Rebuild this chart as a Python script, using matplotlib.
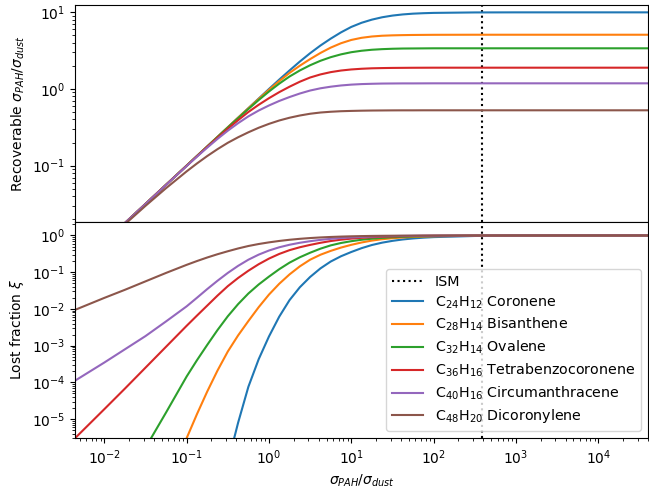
import numpy as np
import matplotlib
matplotlib.use("Agg")
import matplotlib.pyplot as plt

nan = np.nan

# sigma_PAH / sigma_dust grid (log10)
log_sigma = [-2.36, -2.0, -1.75, -1.5, -1.25, -1.0,
             -0.875, -0.75, -0.625, -0.5, -0.375, -0.25, -0.125, 0.0,
             0.125, 0.25, 0.375, 0.5, 0.625, 0.75, 0.875, 1.0,
             1.125, 1.25, 1.375, 1.5, 1.625, 1.75, 1.875, 2.0,
             2.5, 3.0, 3.5, 4.0, 4.61]

sigma_ism = 385.0

labels = [r"C$_{24}$H$_{12}$ Coronene",
          r"C$_{28}$H$_{14}$ Bisanthene",
          r"C$_{32}$H$_{14}$ Ovalene",
          r"C$_{36}$H$_{16}$ Tetrabenzocoronene",
          r"C$_{40}$H$_{16}$ Circumanthracene",
          r"C$_{48}$H$_{20}$ Dicoronylene"]

# recoverable sigma_PAH/sigma_dust (log10)
rec_coronene = [-2.36, -2.0, -1.75, -1.5, -1.25, -1.0,
                -0.875, -0.75, -0.625, -0.5, -0.375, -0.25, -0.125, 0.0,
                0.123, 0.242, 0.358, 0.467, 0.567, 0.657, 0.739, 0.81,
                0.864, 0.905, 0.936, 0.958, 0.973, 0.983, 0.989, 0.993,
                0.999, 1.0, 1.0, 1.0, 1.0]
rec_bisanthene = [-2.36, -2.0, -1.75, -1.5, -1.25, -1.0,
                  -0.875, -0.75, -0.625, -0.5, -0.375, -0.252, -0.13, -0.011,
                  0.103, 0.21, 0.304, 0.39, 0.47, 0.54, 0.597, 0.64,
                  0.668, 0.685, 0.695, 0.70, 0.703, 0.705, 0.706, 0.707,
                  0.708, 0.708, 0.708, 0.708, 0.708]
rec_ovalene = [-2.36, -2.0, -1.75, -1.5, -1.25, -1.0,
               -0.875, -0.751, -0.627, -0.503, -0.381, -0.261, -0.144, -0.033,
               0.07, 0.163, 0.242, 0.31, 0.368, 0.415, 0.452, 0.48,
               0.499, 0.512, 0.52, 0.525, 0.528, 0.529, 0.53, 0.531,
               0.531, 0.531, 0.531, 0.531, 0.531]
rec_tbc = [-2.36, -2.0, -1.75, -1.5, -1.25, -1.002,
           -0.878, -0.755, -0.636, -0.519, -0.407, -0.30, -0.206, -0.12,
           -0.041, 0.03, 0.095, 0.15, 0.19, 0.22, 0.241, 0.255,
           0.264, 0.27, 0.273, 0.275, 0.276, 0.277, 0.2775, 0.278,
           0.278, 0.278, 0.278, 0.278, 0.278]
rec_circum = [-2.36, -2.0, -1.75, -1.501, -1.252, -1.005,
              -0.883, -0.765, -0.651, -0.544, -0.446, -0.357, -0.281, -0.215,
              -0.156, -0.105, -0.059, -0.02, 0.009, 0.03, 0.046, 0.057,
              0.064, 0.068, 0.071, 0.072, 0.073, 0.073, 0.0735, 0.074,
              0.074, 0.074, 0.074, 0.074, 0.074]
rec_dicoronylene = [-2.364, -2.009, -1.765, -1.525, -1.294, -1.075,
                    -0.972, -0.875, -0.785, -0.702, -0.63, -0.565, -0.506, -0.455,
                    -0.411, -0.375, -0.346, -0.323, -0.307, -0.297, -0.29, -0.286,
                    -0.283, -0.281, -0.28, -0.279, -0.2785, -0.2785, -0.278, -0.278,
                    -0.278, -0.278, -0.278, -0.278, -0.278]

# lost fraction xi (log10)
lost_coronene = [nan, nan, nan, nan, nan, nan,
                 nan, nan, nan, -6.2, -5.10, -4.12, -3.37, -2.75,
                 -2.21, -1.76, -1.41, -1.13, -0.897, -0.71, -0.566, -0.45,
                 -0.346, -0.26, -0.196, -0.147, -0.109, -0.081, -0.06, -0.045,
                 -0.014, -0.0044, -0.0014, -0.0004, -0.0001]
lost_bisanthene = [nan, nan, nan, nan, -6.9, -5.52,
                   -4.867, -4.25, -3.678, -3.16, -2.722, -2.33, -1.953, -1.61,
                   -1.315, -1.06, -0.841, -0.66, -0.525, -0.42, -0.33, -0.255,
                   -0.191, -0.14, -0.102, -0.075, -0.055, -0.041, -0.0305, -0.023,
                   -0.007, -0.0022, -0.0007, -0.0002, 0.0]
lost_ovalene = [nan, nan, nan, -5.78, -4.82, -3.84,
                -3.398, -2.98, -2.575, -2.20, -1.87, -1.58, -1.335, -1.12,
                -0.918, -0.74, -0.594, -0.47, -0.36, -0.27, -0.205, -0.156,
                -0.117, -0.088, -0.066, -0.049, -0.036, -0.027, -0.02, -0.015,
                -0.0046, -0.0015, -0.0005, -0.00015, 0.0]
lost_tbc = [-5.53, -4.73, -4.17, -3.60, -3.03, -2.46,
            -2.183, -1.91, -1.637, -1.38, -1.158, -0.96, -0.783, -0.63,
            -0.503, -0.40, -0.321, -0.257, -0.20, -0.152, -0.115, -0.086,
            -0.064, -0.048, -0.036, -0.027, -0.02, -0.015, -0.011, -0.008,
            -0.0025, -0.0008, -0.0003, -0.0001, 0.0]
lost_circum = [-3.96, -3.46, -3.10, -2.74, -2.34, -1.93,
               -1.697, -1.46, -1.233, -1.02, -0.828, -0.66, -0.522, -0.41,
               -0.322, -0.253, -0.199, -0.156, -0.12, -0.092, -0.0697, -0.0525,
               -0.0396, -0.03, -0.0222, -0.0164, -0.0123, -0.0093, -0.0069, -0.0052,
               -0.0016, -0.0005, -0.0002, 0.0, 0.0]
lost_dicoronylene = [-2.03, -1.70, -1.48, -1.25, -1.02, -0.80,
                     -0.697, -0.60, -0.511, -0.43, -0.354, -0.287, -0.233, -0.188,
                     -0.1495, -0.1175, -0.0915, -0.0706, -0.054, -0.041, -0.0308, -0.023,
                     -0.0171, -0.0128, -0.0096, -0.0072, -0.0054, -0.004, -0.003, -0.0023,
                     -0.0007, -0.0002, 0.0, 0.0, 0.0]

recoverable = [rec_coronene, rec_bisanthene, rec_ovalene, rec_tbc, rec_circum, rec_dicoronylene]
lost = [lost_coronene, lost_bisanthene, lost_ovalene, lost_tbc, lost_circum, lost_dicoronylene]

sigma = 10 ** np.array(log_sigma)

fig, (ax1, ax2) = plt.subplots(2, 1, sharex=True, figsize=(6.49, 4.90), dpi=100)
fig.subplots_adjust(left=75 / 649, right=648 / 649, top=1 - 5 / 490,
                    bottom=1 - 438.3 / 490, hspace=0)

ax1.axvline(sigma_ism, color="k", ls=":")
for i, r in enumerate(recoverable):
    ax1.plot(sigma, 10 ** np.array(r), color="C%d" % i)
ax1.set_xscale("log")
ax1.set_yscale("log")
ax1.set_ylim(10 ** -1.731, 10 ** 1.096)
ax1.set_ylabel(r"Recoverable $\sigma_{PAH}/\sigma_{dust}$")

ax2.axvline(sigma_ism, color="k", ls=":", label="ISM")
for i, l in enumerate(lost):
    ax2.plot(sigma, 10 ** np.array(l), color="C%d" % i, label=labels[i])
ax2.set_yscale("log")
ax2.set_ylim(3.0e-6, 10 ** 0.376)
ax2.set_xlim(10 ** -2.356, 10 ** 4.604)
ax2.set_ylabel(r"Lost fraction $\xi$")
ax2.set_xlabel(r"$\sigma_{PAH}/\sigma_{dust}$")
ax2.legend(loc="lower right", fontsize=10.3, handlelength=2.2, labelspacing=0.38)

fig.savefig("out.png", dpi=100)
